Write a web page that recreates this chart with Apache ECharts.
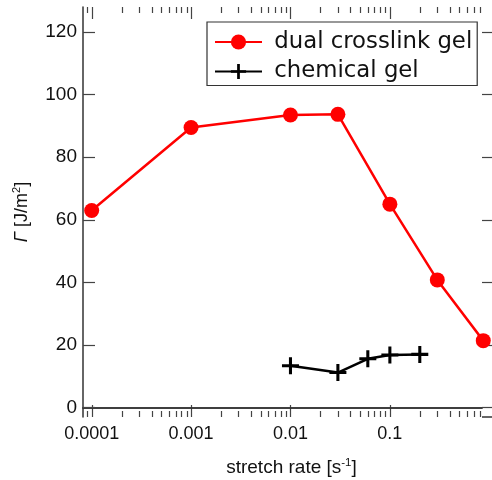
<!DOCTYPE html>
<html><head><meta charset="utf-8">
<script src="https://cdn.jsdelivr.net/npm/echarts@6/dist/echarts.min.js"></script>
<style>html,body{margin:0;padding:0;background:#fff}#c{width:492px;height:480px}</style>
</head><body><div id="c"></div>
<script>
const seriesNames = ['dual crosslink gel', 'chemical gel'];
const dualRate = [0.0001, 0.001, 0.01, 0.03, 0.1, 0.3, 0.87];
const dualToughness = [63.0, 89.5, 93.5, 93.7, 65.0, 40.8, 21.4];
const chemRate = [0.01, 0.03, 0.06, 0.1, 0.2];
const chemToughness = [13.4, 11.2, 15.6, 16.8, 17.0];
const xTickValues = [0.0001, 0.001, 0.01, 0.1];
const xTickLabels = ['0.0001', '0.001', '0.01', '0.1'];
const yTickValues = [0, 20, 40, 60, 80, 100, 120];
const yTickLabels = ['0', '20', '40', '60', '80', '100', '120'];
const xRange = [8.18e-5, 0.845];
const yRange = [-3, 128];

const FONT = 'Liberation Sans';
const CROSS = 'path://M8.2,0h3.6v8.2h8.2v3.6h-8.2v8.2h-3.6v-8.2h-8.2v-3.6h8.2z';
const chart = echarts.init(document.getElementById('c'), null, {renderer: 'canvas'});

function xLabel(v) {
  for (let i = 0; i < xTickValues.length; i++) {
    if (Math.abs(Math.log10(v) - Math.log10(xTickValues[i])) < 1e-6) return xTickLabels[i];
  }
  return '';
}
function yLabel(v) {
  const i = yTickValues.indexOf(v);
  return i >= 0 ? yTickLabels[i] : '';
}
const axisLine = {show: true, lineStyle: {color: '#333', width: 1.5}};
const tickStyle = {color: '#444', width: 1.2};

const option = {
  animation: false,
  backgroundColor: '#fff',
  grid: {left: 83, top: 7, width: 399, height: 410, containLabel: false, outerBoundsMode: 'none'},
  legend: {
    orient: 'vertical', left: 207, top: 22,
    padding: [8, 5, 2, 7], itemGap: 5.5,
    itemWidth: 47, itemHeight: 19,
    borderColor: '#333', borderWidth: 1.2, backgroundColor: '#fff',
    formatter: n => ' ' + n,
    textStyle: {fontFamily: 'DejaVu Sans', fontSize: 22.8, lineHeight: 24, color: '#111'},
    data: seriesNames
  },
  xAxis: [{
    type: 'log', logBase: 10, min: xRange[0], max: xRange[1], position: 'bottom',
    axisLine: axisLine,
    axisTick: {show: false},
    axisLabel: {formatter: xLabel, fontFamily: FONT, fontSize: 18, color: '#111', margin: 8},
    splitLine: {show: false}, minorTick: {show: false},
    name: 'stretch rate [s{sup|-1}]', nameLocation: 'middle', nameGap: 40,
    nameTextStyle: {fontFamily: FONT, fontSize: 19, color: '#111', lineHeight: 22, padding: [0, 0, 0, 18],
      rich: {sup: {fontFamily: FONT, fontSize: 11.5, lineHeight: 12, verticalAlign: 'top', color: '#111'}}}
  }, {
    type: 'log', logBase: 10, min: xRange[0], max: xRange[1], position: 'top',
    axisLine: axisLine,
    axisTick: {show: false},
    axisLabel: {show: false}, splitLine: {show: false}
  }],
  yAxis: [{
    type: 'value', min: yRange[0], max: yRange[1], position: 'left',
    axisLine: axisLine,
    axisTick: {inside: true, length: 12, lineStyle: tickStyle, customValues: yTickValues},
    axisLabel: {customValues: yTickValues, formatter: yLabel, fontFamily: FONT, fontSize: 19, color: '#111', margin: 6},
    splitLine: {show: false},
    name: '{g|Γ} [J/m{sup|2}]', nameLocation: 'middle', nameGap: 50, nameRotate: 90,
    nameTextStyle: {fontFamily: FONT, fontSize: 18, color: '#111', lineHeight: 22,
      rich: {
        g: {fontFamily: FONT, fontStyle: 'italic', fontSize: 18, color: '#111'},
        sup: {fontFamily: FONT, fontSize: 11, lineHeight: 12, verticalAlign: 'top', color: '#111'}
      }}
  }, {
    type: 'value', min: yRange[0], max: yRange[1], position: 'right',
    axisLine: {show: false},
    axisTick: {show: true, inside: false, length: 11, lineStyle: tickStyle, customValues: yTickValues},
    axisLabel: {show: false}, splitLine: {show: false}
  }],
  series: [{
    name: seriesNames[0], type: 'line', xAxisIndex: 0, yAxisIndex: 0,
    data: dualRate.map((x, i) => [x, dualToughness[i]]),
    symbol: 'circle', symbolSize: 15, clip: false,
    itemStyle: {color: '#ff0000'}, lineStyle: {color: '#ff0000', width: 2.5}, z: 3
  }, {
    name: seriesNames[1], type: 'line', xAxisIndex: 0, yAxisIndex: 0,
    data: chemRate.map((x, i) => [x, chemToughness[i]]),
    symbol: CROSS, symbolSize: 17, clip: false,
    itemStyle: {color: '#000'}, lineStyle: {color: '#000', width: 2.5}, z: 4
  }]
};
chart.setOption(option);

// log-axis ticks: majors at decades, minors at 2..9 per decade, on bottom and top axes
const minorVals = [];
for (let d = -5; d <= 0; d++) {
  for (let k = 2; k <= 9; k++) {
    const v = k * Math.pow(10, d);
    if (v > xRange[0] && v < xRange[1]) minorVals.push(v);
  }
}
const yBottom = chart.convertToPixel({yAxisIndex: 0}, yRange[0]);
const yTop = chart.convertToPixel({yAxisIndex: 0}, yRange[1]);
const xRight = chart.convertToPixel({xAxisIndex: 0}, xRange[1]);
const elems = [];
function addTick(v, len) {
  const px = Math.round(chart.convertToPixel({xAxisIndex: 0}, v)) + 0.5;
  elems.push({type: 'line', shape: {x1: px, y1: yBottom, x2: px, y2: yBottom - len}, style: {stroke: '#444', lineWidth: 1.2}, silent: true});
  elems.push({type: 'line', shape: {x1: px, y1: yTop, x2: px, y2: yTop + len}, style: {stroke: '#444', lineWidth: 1.2}, silent: true});
}
xTickValues.forEach(v => addTick(v, 12));
minorVals.forEach(v => addTick(v, 6));
elems.push({type: 'line', shape: {x1: xRight, y1: yBottom, x2: 492, y2: yBottom}, style: {stroke: '#333', lineWidth: 1.5}, silent: true});
chart.setOption({graphic: {elements: elems}});
</script></body></html>
